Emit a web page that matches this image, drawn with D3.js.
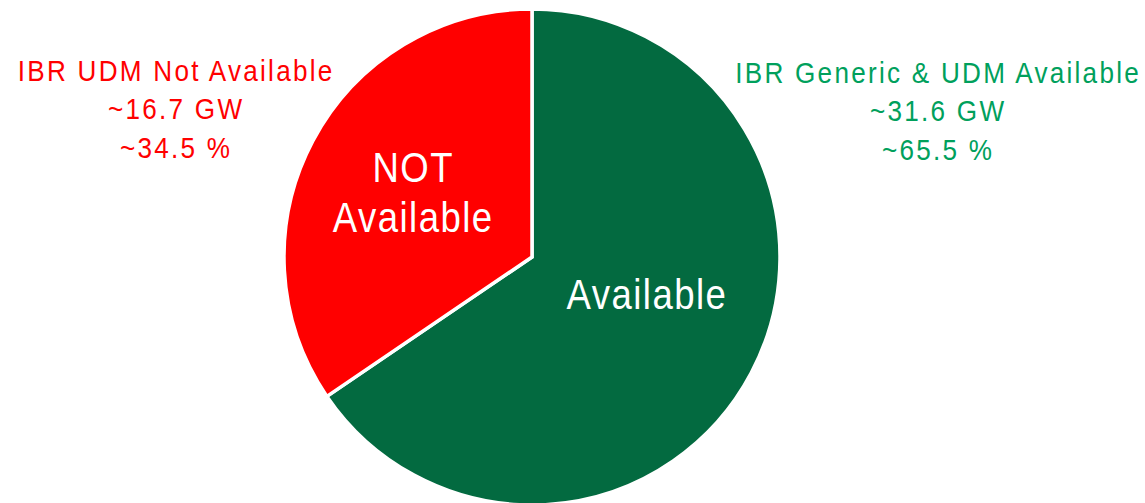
<!DOCTYPE html>
<html>
<head>
<meta charset="utf-8">
<script src="https://cdn.jsdelivr.net/npm/d3@7/dist/d3.min.js"></script>
<style>
  html, body { margin: 0; padding: 0; background: #fff; }
  svg text { font-family: "Liberation Sans Narrow", "Arial Narrow", "Liberation Sans", Arial, sans-serif; }
</style>
</head>
<body>
<div id="chartDiv"></div>
<script>
// data
const categories = ["Available", "NOT Available"];
const shares = [65.5, 34.5];
const capacityGW = [31.6, 16.7];
const sliceLabels = [["Available"], ["NOT", "Available"]];
const calloutTitles = ["IBR Generic & UDM Available", "IBR UDM Not Available"];

// layout
const width = 1145, height = 503;
const cx = 532, cy = 257, radius = 248;
const sliceColors = ["#036a40", "#ff0000"];
const calloutColors = ["#00a05c", "#ff0000"];
const squeeze = 0.87; // no condensed font installed, so squash a regular one

const svg = d3.select("#chartDiv")
    .append("svg")
    .attr("width", width)
    .attr("height", height);

const g = svg.append("g")
    .attr("transform", "translate(" + cx + "," + cy + ")");

const pie = d3.pie()
    .value(d => d)
    .sort(null);

const arcs = pie(shares);

const arc = d3.arc()
    .innerRadius(0)
    .outerRadius(radius);

g.selectAll("path")
    .data(arcs)
    .enter()
    .append("path")
    .attr("d", arc)
    .attr("fill", (d, i) => sliceColors[i])
    .attr("stroke", "#fff")
    .attr("stroke-width", 3.5)
    .attr("stroke-linejoin", "miter");

// labels inside the slices
const labelArc = [
    d3.arc().innerRadius(radius * 0.48).outerRadius(radius * 0.48),
    d3.arc().innerRadius(radius * 0.55).outerRadius(radius * 0.55)
];
const labelNudge = [[9, -19], [1, -1]];  // hand placed on the original slide
const lineGap = 50;

arcs.forEach((d, i) => {
    const c = labelArc[i].centroid(d);
    const lines = sliceLabels[i];
    const t = g.append("g")
        .attr("transform", "translate(" + (c[0] + labelNudge[i][0]) + "," + (c[1] + labelNudge[i][1]) + ") scale(" + squeeze + ",1)")
        .append("text")
        .attr("text-anchor", "middle")
        .attr("fill", "#fff")
        .style("font-size", "42px")
        .style("letter-spacing", "1.7px");
    lines.forEach((s, j) => {
        t.append("tspan")
            .attr("x", 0.85)
            .attr("y", (j - (lines.length - 1) / 2) * lineGap + 15)
            .text(s);
    });
});

// callouts outside the pie
const calloutX = [cx + 405, cx - 357];
const calloutTop = [83, 81], calloutGap = 38.5;

categories.forEach((c, i) => {
    const t = svg.append("g")
        .attr("transform", "translate(" + calloutX[i] + "," + calloutTop[i] + ") scale(" + squeeze + ",1)")
        .append("text")
        .attr("text-anchor", "middle")
        .attr("fill", calloutColors[i])
        .style("font-size", "30px")
        .style("letter-spacing", "2.6px");
    [calloutTitles[i], "~" + capacityGW[i].toFixed(1) + " GW", "~" + shares[i].toFixed(1) + " %"]
        .forEach((s, j) => {
            t.append("tspan")
                .attr("x", 1.3)
                .attr("y", j * calloutGap)
                .text(s);
        });
});
</script>
</body>
</html>
